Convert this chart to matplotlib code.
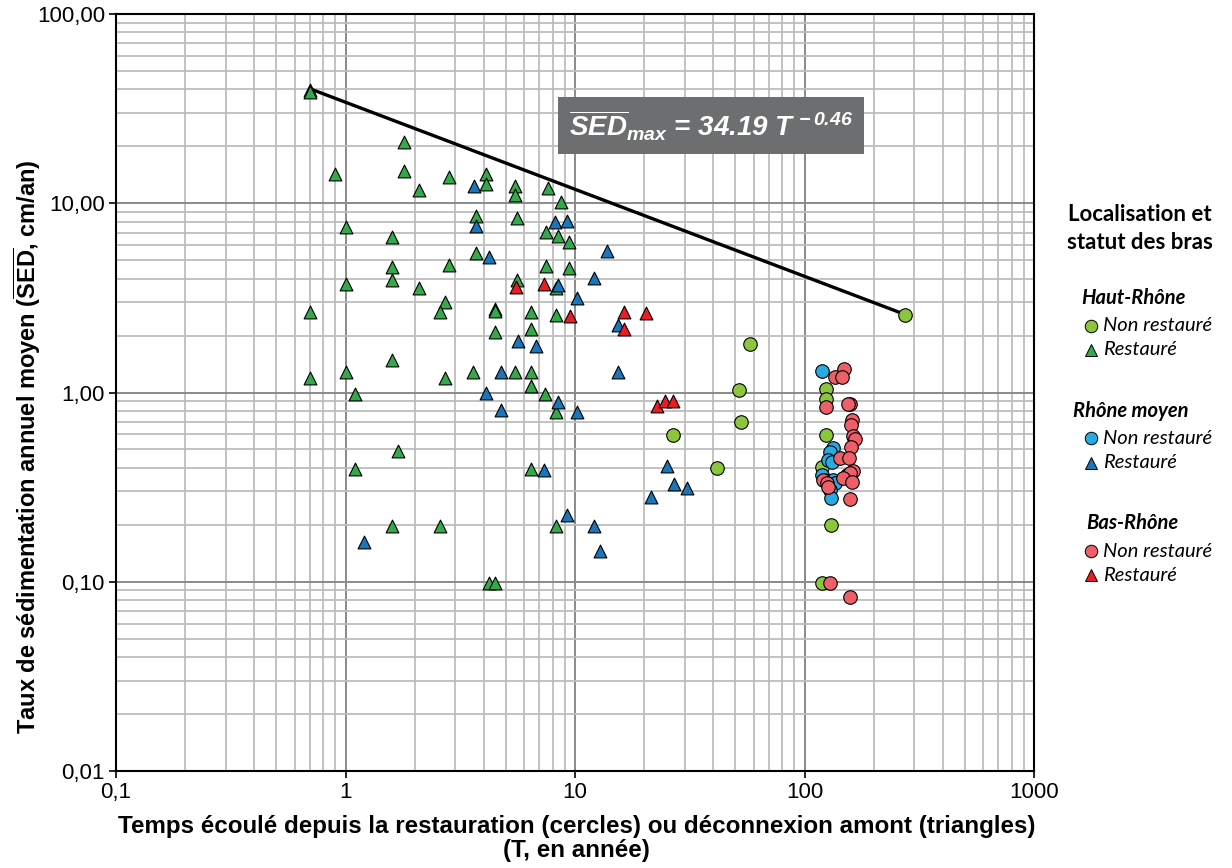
import numpy as np
import matplotlib
matplotlib.use("Agg")
import matplotlib.pyplot as plt
from matplotlib.lines import Line2D

plt.rcParams['font.family'] = ['Liberation Sans', 'DejaVu Sans']
plt.rcParams['mathtext.fontset'] = 'custom'
plt.rcParams['mathtext.rm'] = 'Liberation Sans:italic:bold'
plt.rcParams['mathtext.it'] = 'Liberation Sans:italic:bold'
plt.rcParams['mathtext.bf'] = 'Liberation Sans:bold'

# Haut-Rhone, restaure (triangles verts)
hr_rest_t = [0.70, 0.70, 0.90, 1.79, 1.79, 2.10, 2.81, 4.11, 4.11, 3.72, 1.60, 1.00,
             2.81, 1.60, 1.60, 2.10, 1.00, 0.70, 2.70, 2.59, 4.46, 4.46, 4.50, 5.50,
             5.50, 7.66, 8.73, 5.61, 7.51, 8.47, 9.37, 7.51, 9.37, 5.61, 8.30, 6.40,
             8.30, 6.40, 1.60, 1.00, 0.70, 2.70, 3.61, 1.10, 5.50, 6.40, 6.40, 7.43,
             8.30, 1.70, 1.10, 6.40, 1.60, 2.59, 8.30, 4.20, 4.50, 3.72]
hr_rest_sed = [39.6, 38.6, 14.2, 21.0, 14.9, 11.7, 13.7, 14.2, 12.6, 8.6, 6.6, 7.5,
               4.74, 4.62, 3.94, 3.58, 3.76, 2.67, 3.02, 2.67, 2.77, 2.70, 2.09, 12.3,
               11.0, 12.1, 10.1, 8.4, 7.08, 6.75, 6.27, 4.68, 4.57, 3.94, 3.58, 2.67,
               2.57, 2.17, 1.49, 1.28, 1.19, 1.19, 1.28, 0.98, 1.28, 1.28, 1.08, 0.98,
               0.79, 0.49, 0.393, 0.393, 0.196, 0.196, 0.196, 0.098, 0.098, 5.48]

# Rhone moyen, restaure (triangles bleus)
rm_rest_t = [3.64, 3.72, 4.20, 4.11, 4.78, 4.78, 5.67, 6.73, 8.14, 9.18, 8.39, 10.25,
             12.04, 13.72, 15.33, 15.33, 8.39, 10.25, 7.36, 25.1, 26.9, 30.6, 21.35,
             9.18, 12.04, 12.79, 1.20]
rm_rest_sed = [12.4, 7.62, 5.22, 0.99, 1.28, 0.81, 1.87, 1.76, 8.0, 8.1, 3.71, 3.17,
               4.04, 5.62, 2.28, 1.28, 0.89, 0.79, 0.389, 0.408, 0.327, 0.312, 0.28,
               0.224, 0.196, 0.146, 0.163]

# Bas-Rhone, restaure (triangles rouges)
br_rest_t = [5.55, 7.36, 9.46, 16.28, 20.3, 16.28, 22.68, 24.57, 26.64]
br_rest_sed = [3.62, 3.76, 2.54, 2.67, 2.64, 2.17, 0.848, 0.90, 0.90]

# Haut-Rhone, non restaure (cercles vert clair)
hr_non_t = [273.7, 57.7, 51.7, 52.7, 26.64, 41.4, 123.8, 123.8, 123.8, 119, 130.2, 119]
hr_non_sed = [2.57, 1.81, 1.03, 0.698, 0.595, 0.398, 1.04, 0.924, 0.595, 0.403, 0.199, 0.099]

# Rhone moyen, non restaure (cercles cyan)
rm_non_t = [119, 132.8, 128.9, 126.3, 131.5, 119, 122.6, 132.8, 135.5, 128.9, 130.2]
rm_non_sed = [1.30, 0.508, 0.484, 0.439, 0.428, 0.366, 0.344, 0.344, 0.332, 0.304, 0.276]

# Bas-Rhone, non restaure (cercles saumon)
br_non_t = [148.4, 135.5, 145.4, 123.8, 157.6, 154.4, 160.8, 159.2, 162.4, 165.7, 159.2,
            142.5, 156.0, 120, 162.4, 152.9, 157.6, 146.9, 160.8, 125, 126.3, 157.6,
            128.9, 157.6]
br_non_sed = [1.33, 1.21, 1.21, 0.838, 0.869, 0.869, 0.715, 0.673, 0.588, 0.567, 0.514,
              0.45, 0.45, 0.344, 0.384, 0.366, 0.375, 0.352, 0.336, 0.332, 0.316, 0.273,
              0.098, 0.0835]

# enveloppe SEDmax = 34.19 T^-0.46
fit_a, fit_b = 34.19, -0.46
fit_t = np.array([0.7, 274.0])

c_hr_tri, c_rm_tri, c_br_tri = '#35a94a', '#1b75bb', '#ec1c24'
c_hr_cir, c_rm_cir, c_br_cir = '#8cc63f', '#29aae1', '#ef5f67'

fig = plt.figure(figsize=(12.32, 8.68), dpi=100)
ax = fig.add_axes([0.0942, 0.1118, 0.7451, 0.8720])

ax.set_xscale('log')
ax.set_yscale('log')
ax.set_xlim(0.1, 1000)
ax.set_ylim(0.01, 100)

ax.grid(True, which='minor', color='#bdbdbd', lw=1.3)
ax.grid(True, which='major', color='#8a8a8a', lw=1.4)
ax.set_axisbelow(True)

tri_kw = dict(marker='^', s=85, edgecolors='black', linewidths=0.8, zorder=3)
cir_kw = dict(marker='o', s=95, edgecolors='black', linewidths=0.8, zorder=3)

ax.scatter(hr_rest_t, hr_rest_sed, c=c_hr_tri, **tri_kw)
ax.scatter(rm_rest_t, rm_rest_sed, c=c_rm_tri, **tri_kw)
ax.scatter(br_rest_t, br_rest_sed, c=c_br_tri, **tri_kw)
ax.scatter(hr_non_t, hr_non_sed, c=c_hr_cir, **cir_kw)
ax.scatter(rm_non_t, rm_non_sed, c=c_rm_cir, **cir_kw)
ax.scatter(br_non_t, br_non_sed, c=c_br_cir, **cir_kw)

ax.plot(fit_t, fit_a * fit_t ** fit_b, color='black', lw=2.4, zorder=2)

ax.text(0.648, 0.853, r'$\overline{SED}_{max}$ = 34.19 T$^{\,-0.46}$',
        transform=ax.transAxes, color='white', fontsize=20, fontweight='bold',
        fontstyle='italic', ha='center', va='center',
        bbox=dict(boxstyle='square,pad=0.4', fc='#6d6e70', ec='none'), zorder=5)

ax.set_xticks([0.1, 1, 10, 100, 1000])
ax.set_xticklabels(['0,1', '1', '10', '100', '1000'])
ax.set_yticks([0.01, 0.1, 1, 10, 100])
ax.set_yticklabels(['0,01', '0,10', '1,00', '10,00', '100,00'])
ax.tick_params(which='major', direction='out', length=5, width=1.2, labelsize=16,
               colors='black', pad=3)
ax.tick_params(which='minor', length=0)
for s in ax.spines.values():
    s.set_linewidth(1.5)
    s.set_color('black')

ax.set_xlabel('Temps écoulé depuis la restauration (cercles) ou déconnexion amont (triangles)\n(T, en année)',
              fontsize=17.4, fontweight='bold', linespacing=1.05)
ax.xaxis.set_label_coords(0.502, -0.058, transform=ax.transAxes)
ax.xaxis.label.set_va('top')
ax.set_ylabel(r'Taux de sédimentation annuel moyen ($\overline{\mathbf{SED}}$, cm/an)',
              fontsize=17, fontweight='bold', va='center')
ax.yaxis.set_label_coords(-0.097, 0.428)

# legende
lg_font = ['Lato', 'DejaVu Sans']
fig.text(0.925, 0.737, 'Localisation et\nstatut des bras', ha='center', va='center',
         fontsize=16, fontweight='bold', family=lg_font, linespacing=1.4)

groups = [('Haut-Rhône', 0.8775, 0.657, c_hr_cir, c_hr_tri),
          ('Rhône moyen', 0.871, 0.527, c_rm_cir, c_rm_tri),
          ('Bas-Rhône', 0.882, 0.397, c_br_cir, c_br_tri)]
for name, xn, yn, cc, ct in groups:
    fig.text(xn, yn, name, ha='left', va='center', fontsize=14.5, fontweight='bold',
             fontstyle='italic', family=lg_font)
    for dy, mk, col, lab in [(0.032, 'o', cc, 'Non restauré'), (0.060, '^', ct, 'Restauré')]:
        fig.add_artist(Line2D([0.8855], [yn - dy], marker=mk, color=col, markersize=9,
                              markeredgecolor='black', markeredgewidth=0.7,
                              transform=fig.transFigure, linestyle='none'))
        fig.text(0.8955, yn - dy, lab, ha='left', va='center', fontsize=14.5,
                 fontstyle='italic', family=lg_font)

fig.savefig('out.png', dpi=100)
